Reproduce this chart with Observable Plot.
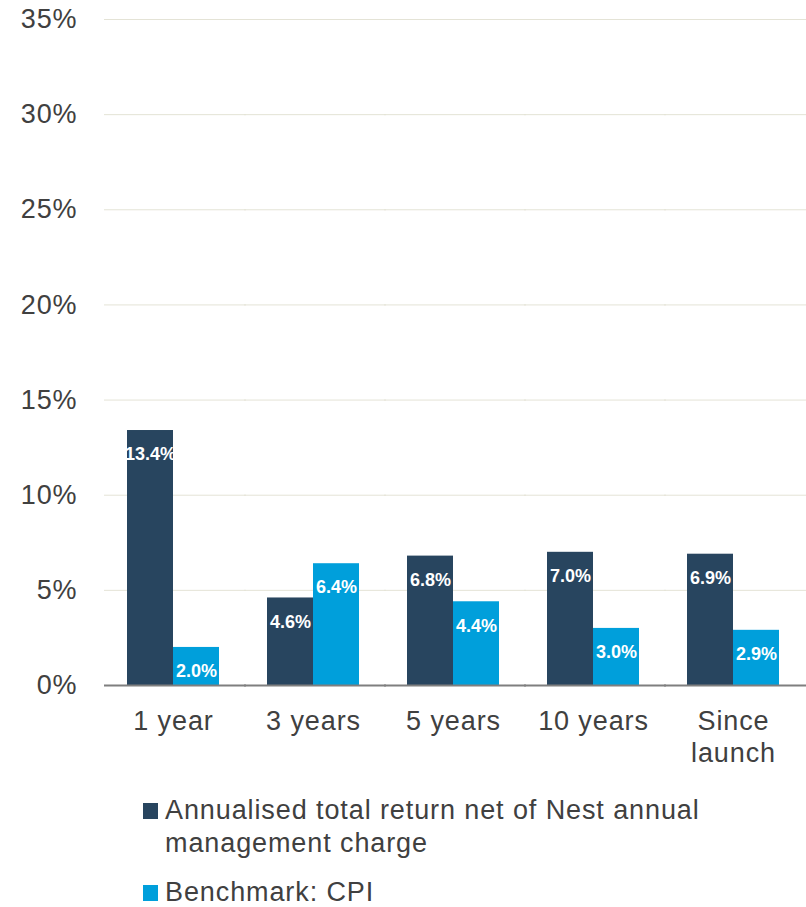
<!DOCTYPE html>
<html>
<head>
<meta charset="utf-8">
<script src="https://cdn.jsdelivr.net/npm/d3@7"></script>
<script src="https://cdn.jsdelivr.net/npm/@observablehq/plot@0.6"></script>
<style>
  body { margin: 0; background: #fff; font-family: "Liberation Sans", Arial, sans-serif; }
  #legend { margin: 19px 0 0 143px; color: #404040; font-size: 27px; line-height: 33px; letter-spacing: 0.9px; }
  .item { display: flex; align-items: flex-start; }
  .item + .item { margin-top: 16px; }
  .sw { width: 15px; height: 16px; margin-top: 9px; margin-right: 7px; flex: none; }
</style>
</head>
<body>
<div id="chart"></div>
<div id="legend"></div>
<script>
const periods = ["1 year", "3 years", "5 years", "10 years", "Since launch"];
const seriesNames = ["Annualised total return net of Nest annual management charge", "Benchmark: CPI"];
const nestReturn = [13.4, 4.6, 6.8, 7.0, 6.9];
const cpi = [2.0, 6.4, 4.4, 3.0, 2.9];
const yTicks = [0, 5, 10, 15, 20, 25, 30, 35];
const colors = ["#28455f", "#009fdb"];

const data = [];
periods.forEach((p, i) => {
  data.push({period: p, series: seriesNames[0], value: nestReturn[i]});
  data.push({period: p, series: seriesNames[1], value: cpi[i]});
});

const font = "'Liberation Sans', Arial, sans-serif";

const chart = Plot.plot({
  width: 806,
  height: 775,
  marginTop: 19,
  marginBottom: 90,
  marginLeft: 104,
  marginRight: 4,
  style: {fontFamily: font, background: "#fff", overflow: "visible"},
  fx: {domain: periods, paddingInner: 0.345, paddingOuter: 0.165, label: null},
  x: {domain: seriesNames, padding: 0, axis: null},
  y: {domain: [0, 35], axis: null},
  color: {domain: seriesNames, range: colors},
  marks: [
    Plot.ruleY(yTicks.filter(d => d > 0), {stroke: "#e4e3d6", strokeWidth: 1, insetLeft: -23, insetRight: -27}),
    Plot.barY(data, {fx: "period", x: "series", y: "value", fill: "series"}),
    Plot.text(data, {
      fx: "period", x: "series", y: "value",
      text: d => d.value.toFixed(1) + "%",
      dy: 24, fill: "white", fontWeight: "bold", fontSize: 18
    }),
    Plot.ruleY([0], {stroke: "#7f7f7f", strokeWidth: 2, insetLeft: -23, insetRight: -27}),
    Plot.axisY({
      ticks: yTicks, tickFormat: d => d + "%", tickSize: 0, tickPadding: 50,
      fontSize: 27, fill: "#404040", label: null
    }),
    Plot.axisFx({
      anchor: "bottom",
      tickSize: 0, tickPadding: 0, dy: 22, fontSize: 27, fill: "#404040", label: null,
      lineHeight: 1.19,
      tickFormat: d => d === "Since launch" ? "Since\nlaunch" : d
    })
  ]
});
chart.querySelectorAll("g[aria-label='fx-axis tick label'], g[aria-label='y-axis tick label']").forEach(g => g.style.letterSpacing = "0.9px");
document.getElementById("chart").appendChild(chart);

const legend = document.getElementById("legend");
const legendLabels = [["Annualised total return net of Nest annual", "management charge"], ["Benchmark: CPI"]];
legendLabels.forEach((lines, i) => {
  const item = document.createElement("div");
  item.className = "item";
  const sw = document.createElement("div");
  sw.className = "sw";
  sw.style.background = colors[i];
  const txt = document.createElement("div");
  lines.forEach((l, j) => {
    if (j > 0) txt.appendChild(document.createElement("br"));
    txt.appendChild(document.createTextNode(l));
  });
  item.appendChild(sw);
  item.appendChild(txt);
  legend.appendChild(item);
});
</script>
</body>
</html>
